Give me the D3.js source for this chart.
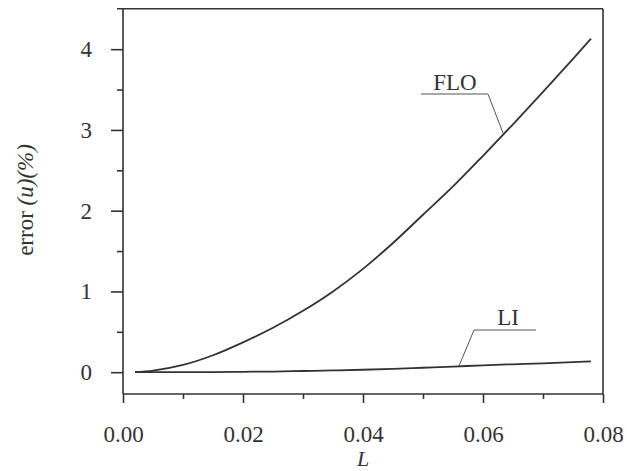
<!DOCTYPE html>
<html>
<head>
<meta charset="utf-8">
<script src="https://cdn.jsdelivr.net/npm/d3@7"></script>
<style>
  body { margin: 0; background: #fff; }
  svg text { font-family: "Liberation Serif", "Times New Roman", serif; fill: #333; }
</style>
</head>
<body>
<div id="vis"></div>
<script>
var width = 627;
var height = 471;

// data
var lValues = [0.002, 0.005, 0.010, 0.015, 0.020, 0.025, 0.030, 0.035, 0.040, 0.045, 0.050, 0.055, 0.060, 0.065, 0.070, 0.075, 0.078];
var floValues = [0, 0.02, 0.09, 0.21, 0.37, 0.55, 0.76, 1.00, 1.28, 1.60, 1.95, 2.30, 2.68, 3.07, 3.47, 3.88, 4.13];
var liValues = [0, 0.0, 0.0, 0.002, 0.005, 0.008, 0.015, 0.022, 0.03, 0.041, 0.055, 0.069, 0.085, 0.098, 0.11, 0.125, 0.135];

var xMajor = [0, 0.02, 0.04, 0.06, 0.08];
var xMinor = [0.01, 0.03, 0.05, 0.07];
var yMajor = [0, 1, 2, 3, 4];
var yMinor = [0.5, 1.5, 2.5, 3.5];

var series = [
  { name: 'FLO', data: floValues },
  { name: 'LI', data: liValues }
];

var x = d3.scaleLinear().domain([0, 0.08]).range([123, 603]);
var y = d3.scaleLinear().domain([-0.27, 4.5]).range([394, 8.8]);

var svg = d3.select('#vis').append('svg')
  .attr('width', width)
  .attr('height', height);

var ink = '#333';

// minor ticks first, then majors with labels
svg.append('g')
  .attr('transform', 'translate(0,394)')
  .call(d3.axisBottom(x).tickValues(xMinor).tickSize(5).tickFormat(''))
  .call(function (g) { g.select('.domain').remove(); });

svg.append('g')
  .attr('class', 'x axis')
  .attr('transform', 'translate(0,394)')
  .call(d3.axisBottom(x).tickValues(xMajor).tickSize(9).tickPadding(23).tickFormat(d3.format('.2f')))
  .call(function (g) { g.select('.domain').remove(); });

svg.append('g')
  .attr('transform', 'translate(123,0)')
  .call(d3.axisLeft(y).tickValues(yMinor).tickSize(6).tickFormat(''))
  .call(function (g) { g.select('.domain').remove(); });

svg.append('g')
  .attr('class', 'y axis')
  .attr('transform', 'translate(123,0)')
  .call(d3.axisLeft(y).tickValues(yMajor).tickSize(12).tickPadding(19).tickFormat(d3.format('d')))
  .call(function (g) { g.select('.domain').remove(); });

svg.selectAll('g').attr('font-family', null);
svg.selectAll('.tick line').attr('stroke', ink).attr('stroke-width', 1.6);
svg.selectAll('.tick text')
  .style('font-size', '23px')
  .attr('fill', ink);

// frame
var frame = svg.append('g').attr('fill', 'none').attr('stroke', ink).attr('stroke-width', 1.6);
frame.append('line').attr('x1', 117).attr('x2', x(0.08)).attr('y1', y(4.5)).attr('y2', y(4.5));
frame.append('line').attr('x1', x(0)).attr('x2', x(0)).attr('y1', y(4.5)).attr('y2', y(-0.27));
frame.append('line').attr('x1', x(0.08)).attr('x2', x(0.08)).attr('y1', y(4.5)).attr('y2', y(-0.27));
frame.append('line').attr('x1', x(0)).attr('x2', x(0.08)).attr('y1', y(-0.27)).attr('y2', y(-0.27));

// curves
var line = d3.line()
  .x(function (d, i) { return x(lValues[i]); })
  .y(function (d) { return y(d); })
  .curve(d3.curveMonotoneX);

svg.selectAll('.curve')
  .data(series)
  .enter().append('path')
  .attr('class', 'curve')
  .attr('d', function (d) { return line(d.data); })
  .attr('fill', 'none')
  .attr('stroke', ink)
  .attr('stroke-width', 1.8);

// leader lines and labels
var leaders = [
  { name: 'FLO', pts: [[421, 94], [488, 94], [503, 133]], tx: 455, ty: 90 },
  { name: 'LI', pts: [[536, 330], [474, 330], [459, 366]], tx: 508, ty: 325 }
];
leaders.forEach(function (d) {
  svg.append('path')
    .attr('d', d3.line()(d.pts))
    .attr('fill', 'none')
    .attr('stroke', '#555')
    .attr('stroke-width', 1);
  svg.append('text')
    .attr('x', d.tx)
    .attr('y', d.ty)
    .attr('text-anchor', 'middle')
    .style('font-size', '23px')
    .text(d.name);
});

// axis titles
svg.append('text')
  .attr('x', 363)
  .attr('y', 466)
  .attr('text-anchor', 'middle')
  .style('font-size', '22px')
  .style('font-style', 'italic')
  .text('L');

var yt = svg.append('text')
  .attr('transform', 'translate(33,200) rotate(-90)')
  .attr('text-anchor', 'middle')
  .style('font-size', '23px');
yt.append('tspan').text('error ');
yt.append('tspan').style('font-style', 'italic').text('(u)(%)');
</script>
</body>
</html>
